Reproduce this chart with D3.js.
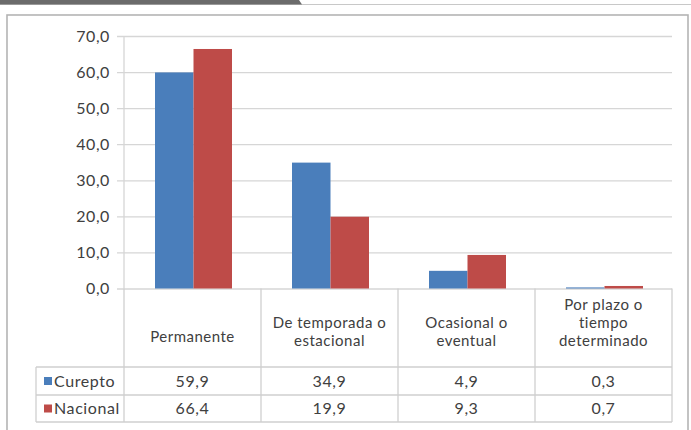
<!DOCTYPE html>
<html><head><meta charset="utf-8">
<script src="https://cdn.jsdelivr.net/npm/d3@7"></script>
<style>body{margin:0;background:#fff}svg{display:block}</style>
</head><body>
<script>
const categories = [["Permanente"],["De temporada o","estacional"],["Ocasional o","eventual"],["Por plazo o","tiempo","determinado"]];
const catKeys = ["Permanente","De temporada o estacional","Ocasional o eventual","Por plazo o tiempo determinado"];
const seriesNames = ["Curepto","Nacional"];
const curepto = [59.9,34.9,4.9,0.3];
const nacional = [66.4,19.9,9.3,0.7];
const yTicks = [0,10,20,30,40,50,60,70];
const colors = ["#4a7ebb","#be4b48"];
const fmt = v => v.toFixed(1).replace(".", ",");

const W=691,H=430;
const svg=d3.select("body").append("svg").attr("width",W).attr("height",H);
const font="Lato, 'Open Sans', sans-serif";
const txt="#404040";

// top decoration
svg.append("line").attr("x1",0).attr("x2",W).attr("y1",4.5).attr("y2",4.5).attr("stroke","#c8c8c8").attr("stroke-width",1);
svg.append("path").attr("d","M0,0 L299,0 L302,4.5 L0,4.5 Z").attr("fill","#6b6b6b");
// frame
svg.append("rect").attr("x",7).attr("y",15).attr("width",681).attr("height",430).attr("fill","none").attr("stroke","#b4b4b4").attr("stroke-width",1.6);

const L=124,R=672;
const x0=d3.scaleBand().domain(catKeys).range([L,R]);
const x1=d3.scaleBand().domain(seriesNames).range([31,108]);
const y=d3.scaleLinear().domain([0,70]).range([288.5,36]);

// gridlines + tick marks
const yAxis=d3.axisLeft(y).tickValues(yTicks).tickSize(-(R-L)).tickFormat(fmt).tickPadding(14);
const ga=svg.append("g").attr("transform",`translate(${L},0)`).call(yAxis);
ga.select(".domain").remove();
ga.selectAll(".tick line").attr("x1",-7).attr("stroke","#d6d6d6").attr("stroke-width",1.3);
ga.selectAll(".tick text").attr("font-family",font).attr("font-size",16).attr("letter-spacing","0.6px").attr("fill",txt);
svg.append("line").attr("x1",L).attr("x2",L).attr("y1",y(70)).attr("y2",y(0)).attr("stroke","#d6d6d6").attr("stroke-width",1.3);

// bars
const data=catKeys.map((k,i)=>({k,vals:[curepto[i],nacional[i]]}));
const g=svg.selectAll("g.cat").data(data).enter().append("g").attr("transform",d=>`translate(${x0(d.k)},0)`);
g.selectAll("rect").data(d=>d.vals.map((v,j)=>({v,s:seriesNames[j],j}))).enter().append("rect")
 .attr("x",d=>x1(d.s)).attr("width",x1.bandwidth()).attr("y",d=>y(d.v)).attr("height",d=>y(0)-y(d.v)).attr("fill",d=>colors[d.j]);

// table lines
const lc="#cfcfcf";
const tl=svg.append("g").attr("stroke",lc).attr("stroke-width",1.3);
const vx=catKeys.map(k=>x0(k)).concat([R]);
vx.forEach(xv=>tl.append("line").attr("x1",xv).attr("x2",xv).attr("y1",y(0)).attr("y2",422));
tl.append("line").attr("x1",36).attr("x2",36).attr("y1",367).attr("y2",422);
[367,395,422].forEach(yy=>tl.append("line").attr("x1",36).attr("x2",R).attr("y1",yy).attr("y2",yy));

// category labels
categories.forEach((lines,i)=>{
  const cx=x0(catKeys[i])+x0.bandwidth()/2;
  const n=lines.length, lh=18;
  lines.forEach((l,j)=>{
    const yy = n===1 ? 337 : 341-(n-1-j)*lh;
    svg.append("text").attr("x",cx).attr("y",yy).attr("dy","0.35em").attr("text-anchor","middle")
      .attr("font-family",font).attr("font-size",15).attr("letter-spacing","0.5px").attr("fill",txt).text(l);
  });
});

// data rows
const rows=[curepto,nacional];
const rowY=[381,408.5];
rows.forEach((vals,r)=>{
  svg.append("rect").attr("x",44).attr("y",rowY[r]-4).attr("width",8).attr("height",8).attr("fill",colors[r]);
  svg.append("text").attr("x",54).attr("y",rowY[r]).attr("dy","0.35em").attr("font-family",font).attr("font-size",16).attr("letter-spacing","0.6px").attr("fill",txt).text(seriesNames[r]);
  vals.forEach((v,i)=>{
    svg.append("text").attr("x",x0(catKeys[i])+x0.bandwidth()/2).attr("y",rowY[r]).attr("dy","0.35em").attr("text-anchor","middle")
      .attr("font-family",font).attr("font-size",16).attr("letter-spacing","0.6px").attr("fill",txt).text(fmt(v));
  });
});
</script>
</body></html>
